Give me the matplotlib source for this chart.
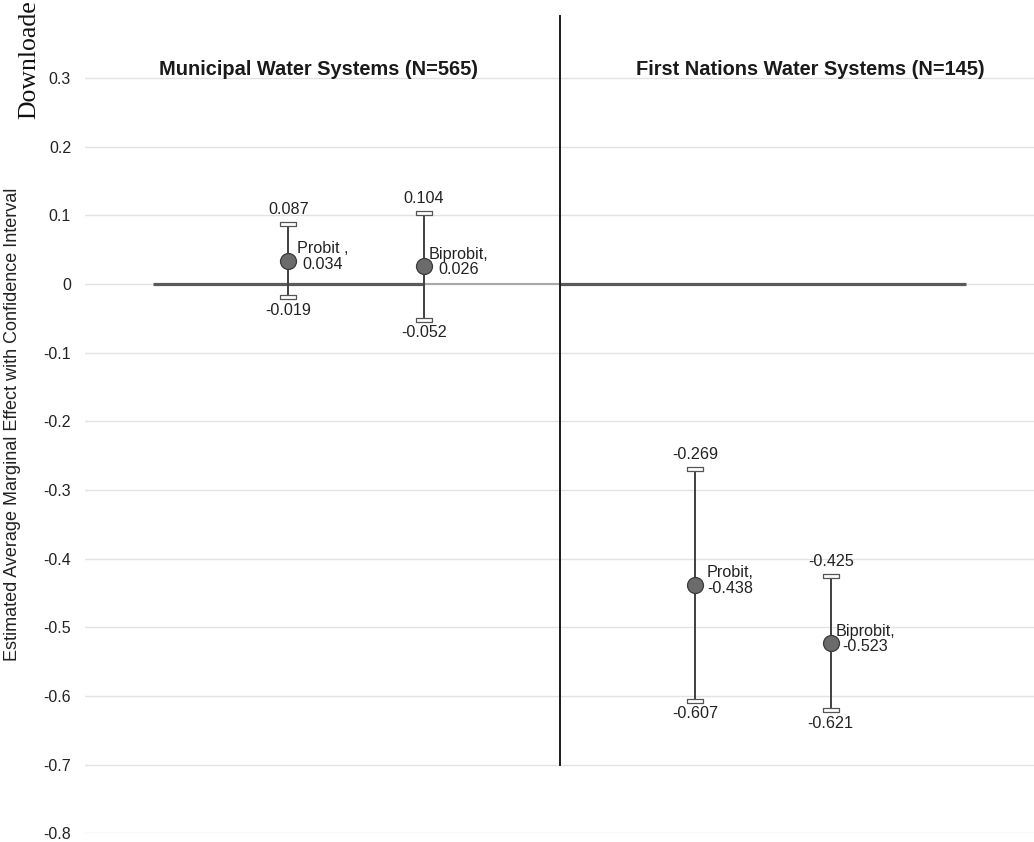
import matplotlib
matplotlib.use("Agg")
import matplotlib.pyplot as plt
from matplotlib.path import Path
import numpy as np

# ---- data ----
groups = ["Municipal Water Systems (N=565)", "First Nations Water Systems (N=145)"]
models = ["Probit", "Biprobit", "Probit", "Biprobit"]
point_labels = ["Probit ,\n0.034", "Biprobit,\n0.026", "Probit,\n-0.438", "Biprobit,\n-0.523"]
positions = [1, 2, 4, 5]
estimates = [0.034, 0.026, -0.438, -0.523]
lower = [-0.019, -0.052, -0.607, -0.621]
upper = [0.087, 0.104, -0.269, -0.425]
yticks = [0.3, 0.2, 0.1, 0, -0.1, -0.2, -0.3, -0.4, -0.5, -0.6, -0.7, -0.8]
ytick_labels = ["0.3", "0.2", "0.1", "0", "-0.1", "-0.2", "-0.3", "-0.4", "-0.5", "-0.6", "-0.7", "-0.8"]
divider_x = 3
title_x = [1.226, 4.847]

plt.rcParams['font.family'] = ['Liberation Sans', 'DejaVu Sans']

W, H = 1034, 842
fig = plt.figure(figsize=(W / 100, H / 100), dpi=100)
# axes: x from 85px to 1034px, y from -0.8 (833.4px) to 0.4 (9.3px)
ax = fig.add_axes([85 / W, (H - 833.4) / H, (W - 85) / W, (833.4 - 9.3) / H])
ax.set_xlim(-0.5, 6.5)
ax.set_ylim(-0.8, 0.4)

for s in ax.spines.values():
    s.set_visible(False)

ax.set_yticks(yticks)
ax.set_yticklabels(ytick_labels, fontsize=11.5, color='#222222')
ax.tick_params(axis='y', length=0, pad=10)
ax.set_xticks([])
for t in yticks:
    ax.axhline(t, color='#e3e3e3', lw=1.0, zorder=0)

# zero reference line
ax.plot([0, 2], [0, 0], color='#5a5a5a', lw=2.3, zorder=1, solid_capstyle='butt')
ax.plot([2, 3], [0, 0], color='#a8a8a8', lw=1.5, zorder=1, solid_capstyle='butt')
ax.plot([3, 6], [0, 0], color='#5a5a5a', lw=2.3, zorder=1, solid_capstyle='butt')

# divider
ax.plot([divider_x, divider_x], [-0.7, 0.39], color='#1a1a1a', lw=1.4, zorder=2)

# cap marker (flat open rectangle)
cap = Path([(-1, -0.2), (1, -0.2), (1, 0.2), (-1, 0.2), (-1, -0.2)],
           [Path.MOVETO, Path.LINETO, Path.LINETO, Path.LINETO, Path.CLOSEPOLY])

for x, e, lo, hi, lab in zip(positions, estimates, lower, upper, point_labels):
    ax.plot([x, x], [lo, hi], color='#404040', lw=1.4, zorder=3)
    ax.plot([x, x], [lo, hi], linestyle='none', marker=cap, markersize=11,
            markerfacecolor='white', markeredgecolor='#555555', markeredgewidth=0.9, zorder=4)
    ax.plot([x], [e], marker='o', markersize=11.5, markerfacecolor='#6b6b6b',
            markeredgecolor='#3a3a3a', markeredgewidth=0.9, zorder=5)
    ax.annotate(f"{hi:.3f}", (x, hi), xytext=(0, 5), textcoords='offset points',
                ha='center', va='bottom', fontsize=11.6, color='#222222')
    ax.annotate(f"{lo:.3f}", (x, lo), xytext=(0, -4), textcoords='offset points',
                ha='center', va='top', fontsize=11.6, color='#222222')
    ax.annotate(lab, (x, e), xytext=(25, 3), textcoords='offset points',
                ha='center', va='center', multialignment='center',
                fontsize=11.6, color='#222222', linespacing=1.05)

for tx, g in zip(title_x, groups):
    ax.text(tx, 0.3044, g, ha='center', va='baseline', fontsize=14.4,
            fontweight='bold', color='#1a1a1a')

fig.text(13 / W, (H - 424) / H,
         "Estimated Average Marginal Effect with Confidence Interval",
         rotation=90, ha='center', va='center', fontsize=13, color='#222222')

fig.text(35 / W, (H - 119) / H, "Downloade", rotation=90, rotation_mode='anchor',
         ha='left', va='baseline', fontsize=18.5, family=['Liberation Serif', 'DejaVu Serif'],
         color='#111111')

fig.savefig("out.png", dpi=100)
